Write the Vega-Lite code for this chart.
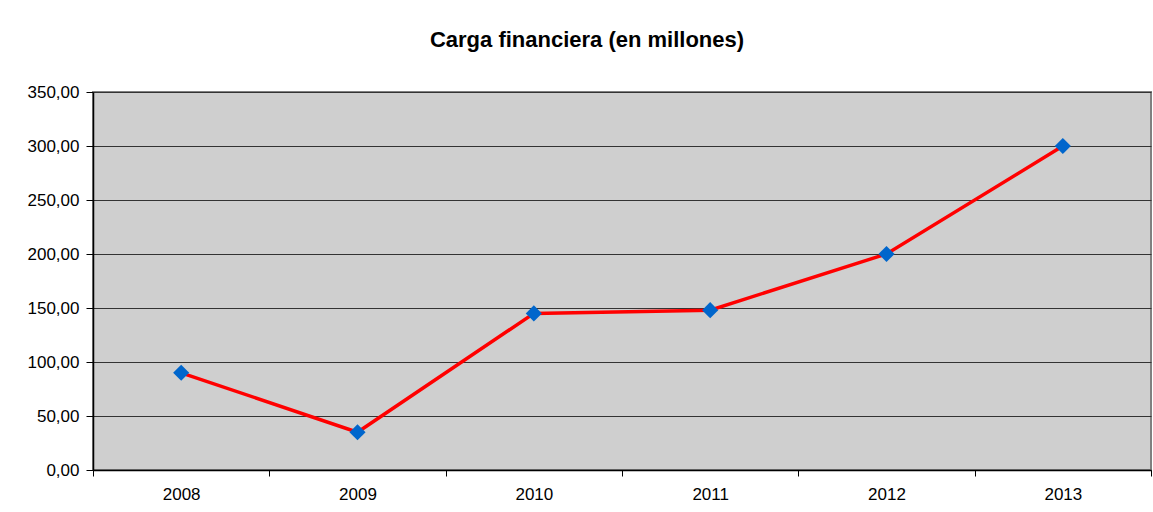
{
  "$schema": "https://vega.github.io/schema/vega-lite/v6.json",
  "width": 1058,
  "height": 378,
  "autosize": {"type": "none"},
  "padding": {"left": 93, "top": 92, "right": 2, "bottom": 42},
  "background": "white",
  "title": {
    "text": "Carga financiera (en millones)",
    "font": "Liberation Sans",
    "fontSize": 22,
    "fontWeight": "bold",
    "color": "black",
    "anchor": "middle",
    "dx": -35,
    "offset": 31
  },
  "config": {
    "view": {"fill": "#CFCFCF", "stroke": "#808080", "strokeWidth": 2},
    "axis": {"labelFont": "Liberation Sans", "labelFontSize": 17, "labelColor": "black", "domainColor": "black", "tickColor": "black"}
  },
  "data": {
    "values": [
      {"year": "2008", "value": 90},
      {"year": "2009", "value": 35},
      {"year": "2010", "value": 145},
      {"year": "2011", "value": 148},
      {"year": "2012", "value": 200},
      {"year": "2013", "value": 300}
    ]
  },
  "encoding": {
    "x": {
      "field": "year",
      "type": "ordinal",
      "scale": {"paddingInner": 0, "paddingOuter": 0},
      "axis": {"title": null, "labelAngle": 0, "tickBand": "extent", "ticks": true, "tickSize": 6, "labelPadding": 10, "grid": false, "domainWidth": 1.5}
    },
    "y": {
      "field": "value",
      "type": "quantitative",
      "scale": {"domain": [0, 350], "nice": false},
      "axis": {"title": null, "values": [0, 50, 100, 150, 200, 250, 300, 350], "labelExpr": "replace(format(datum.value, '.2f'), '.', ',')", "tickSize": 7, "labelPadding": 7, "grid": true, "gridColor": "#333333", "gridWidth": 1, "domainWidth": 1.5}
    }
  },
  "layer": [
    {"mark": {"type": "line", "color": "#FF0000", "strokeWidth": 3.5}},
    {"mark": {"type": "point", "shape": "diamond", "filled": true, "color": "#0066CC", "size": 260, "opacity": 1}}
  ]
}
